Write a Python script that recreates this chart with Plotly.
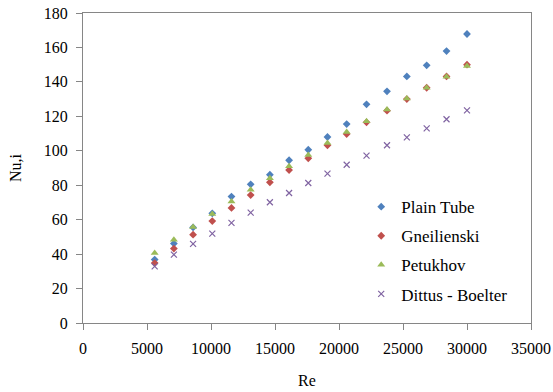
import plotly.graph_objects as go

re_vals = [5600, 7100, 8600, 10100, 11600, 13100, 14600, 16100, 17600, 19100,
           20600, 22150, 23750, 25300, 26850, 28400, 30000]
plain_tube = [36.8, 46.1, 55.5, 63.7, 73.4, 80.5, 86.1, 94.5, 100.6, 108.0,
              115.5, 127.0, 134.5, 143.2, 149.6, 157.9, 167.8]
gneilienski = [34.8, 43.2, 51.3, 59.2, 66.8, 74.3, 81.7, 88.8, 95.6, 103.2,
               109.7, 116.5, 123.3, 130.0, 136.6, 143.2, 150.0]
petukhov = [40.6, 48.4, 55.7, 63.3, 70.6, 77.4, 84.0, 91.0, 97.5, 104.5,
            110.9, 117.1, 123.9, 130.3, 136.6, 143.0, 149.2]
dittus_boelter = [32.9, 39.7, 45.9, 51.9, 58.1, 64.1, 70.1, 75.5, 81.3, 86.7,
                  91.9, 97.2, 103.2, 107.8, 113.0, 118.3, 123.5]

x_ticks = [0, 5000, 10000, 15000, 20000, 25000, 30000, 35000]
x_tick_labels = ["0", "5000", "10000", "15000", "20000", "25000", "30000", "35000"]
y_ticks = [0, 20, 40, 60, 80, 100, 120, 140, 160, 180]
y_tick_labels = [str(v) for v in y_ticks]

series = [
    ("Plain Tube", plain_tube, "#4F81BD", "diamond", 6),
    ("Gneilienski", gneilienski, "#C0504D", "diamond", 6),
    ("Petukhov", petukhov, "#9BBB59", "triangle-up", 7),
    ("Dittus - Boelter", dittus_boelter, "#8064A2", "x-thin-open", 6),
]

fig = go.Figure()
for i, (name, vals, color, sym, size) in enumerate(series):
    marker = dict(color=color, symbol=sym, size=size)
    if sym == "x-thin-open":
        marker["line"] = dict(color=color, width=1.2)
    fig.add_trace(go.Scatter(x=re_vals, y=vals, mode="markers", name=name,
                             marker=marker, legendgroup=f"g{i}"))

FONT = "Liberation Serif, Times New Roman, serif"
axis_common = dict(showgrid=False, zeroline=False, showline=True, mirror=True,
                   linecolor="#868686", linewidth=1, ticks="outside",
                   tickcolor="#868686", ticklen=6, automargin=False,
                   tickfont=dict(family=FONT, size=16, color="#000"))

fig.update_layout(
    width=553, height=392,
    margin=dict(l=83, r=22, t=13, b=69),
    paper_bgcolor="white", plot_bgcolor="white",
    font=dict(family=FONT, size=16, color="#000"),
    xaxis=dict(range=[0, 35000], tickvals=x_ticks, ticktext=x_tick_labels,
               ticklabelstandoff=5,
               title=dict(text="Re", font=dict(family=FONT, size=16), standoff=18),
               **axis_common),
    yaxis=dict(range=[0, 180], tickvals=y_ticks, ticktext=y_tick_labels,
               ticklabelstandoff=5,
               title=dict(text="Nu,i", font=dict(family=FONT, size=16), standoff=18),
               **axis_common),
    legend=dict(x=0.621, y=0.432, xanchor="left", yanchor="top",
                font=dict(family=FONT, size=17, color="#000"), traceorder="grouped",
                tracegroupgap=4, bgcolor="rgba(0,0,0,0)", itemwidth=30),
    showlegend=True,
)

fig.write_html("out.html")
